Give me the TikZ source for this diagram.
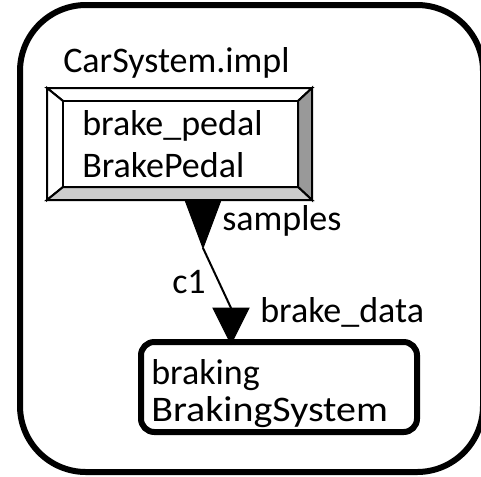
\documentclass[tikz,border=0pt]{standalone}
\usepackage{fontspec}
\setmainfont{Carlito}
\begin{document}
\begin{tikzpicture}[x=0.75pt,y=-0.75pt,
  lbl/.style={inner sep=0pt, anchor=base west, font=\fontsize{27}{32}\selectfont},
  frame/.style={draw=black, line width=4.5pt, rounded corners=49.5pt},
  bevel/.style={draw=black, line width=1.5pt, line join=miter},
  compbox/.style={draw=black, line width=4.5pt, rounded corners=10pt, inner sep=0pt},
  portshape/.style={fill=black, draw=black, line width=0.75pt, line join=miter},
  conn/.style={draw=black, line width=1.5pt}]
\useasboundingbox (0,0) rectangle (481,476);

% system implementation frame
\draw[frame] (20,5) rectangle (483,472);
\node[lbl] (sysname) at (63,72) {CarSystem.impl};

% bevelled device box: outer and inner corners
\coordinate (o1) at (47,88);  \coordinate (o2) at (312,88);
\coordinate (o3) at (312,200); \coordinate (o4) at (47,200);
\coordinate (i1) at (63,101); \coordinate (i2) at (298,101);
\coordinate (i3) at (298,187); \coordinate (i4) at (63,187);
\filldraw[bevel, fill=white] (o1) -- (o2) -- (i2) -- (i1) -- cycle;
\filldraw[bevel, fill=white] (o1) -- (o4) -- (i4) -- (i1) -- cycle;
\filldraw[bevel, fill=black!40] (o2) -- (o3) -- (i3) -- (i2) -- cycle;
\filldraw[bevel, fill=black!20] (o4) -- (o3) -- (i3) -- (i4) -- cycle;
\filldraw[bevel, fill=white] (i1) rectangle (i3);
\node[lbl] (pedalname) at (82,135) {brake\_pedal};
\node[lbl] (pedaltype) at (82,177) {BrakePedal};

% braking subsystem
\node[compbox, minimum width=207pt, minimum height=67.5pt] (braking) at (279,387) {};
\node[lbl] (brkname) at (151,384) {braking};
\node[lbl] (brktype) at (151,421) {\scalebox{1.11}[1]{BrakingSystem}};

% out port on the pedal, in port on the braking system
\coordinate (outL) at (185,200); \coordinate (outR) at (221,200);
\coordinate (outtip) at (203,248);
\coordinate (inL) at (213,308); \coordinate (inR) at (249,308);
\coordinate (intip) at (231,344);
\coordinate (intop) at (231,308);
\filldraw[portshape] (outL) -- (outR) -- (outtip) -- cycle;
\filldraw[portshape] (inL) -- (inR) -- (intip) -- cycle;

% connection c1
\draw[conn] (outtip) -- (intop);

\node[lbl] (outlbl) at (222,230) {samples};
\node[lbl] (connlbl) at (172,293) {c1};
\node[lbl] (inlbl) at (260,322) {brake\_data};
\end{tikzpicture}
\end{document}
